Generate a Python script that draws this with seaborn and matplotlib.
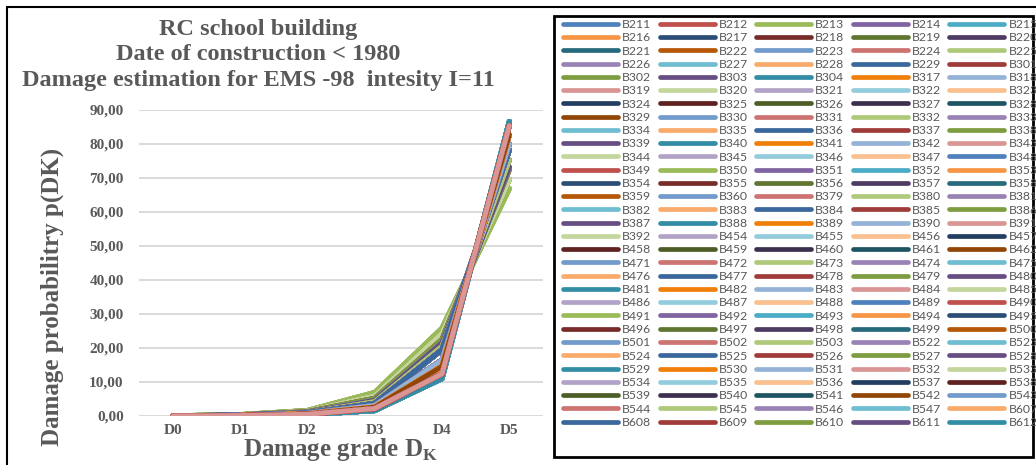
import matplotlib
matplotlib.use("Agg")
import matplotlib.pyplot as plt
from matplotlib.lines import Line2D
from matplotlib.patches import Rectangle
import pandas as pd
import seaborn as sns

# buildings, in legend order (row by row, 5 per row)
buildings = [
    "B211", "B212", "B213", "B214", "B215",
    "B216", "B217", "B218", "B219", "B220",
    "B221", "B222", "B223", "B224", "B225",
    "B226", "B227", "B228", "B229", "B301",
    "B302", "B303", "B304", "B317", "B318",
    "B319", "B320", "B321", "B322", "B323",
    "B324", "B325", "B326", "B327", "B328",
    "B329", "B330", "B331", "B332", "B333",
    "B334", "B335", "B336", "B337", "B338",
    "B339", "B340", "B341", "B342", "B343",
    "B344", "B345", "B346", "B347", "B348",
    "B349", "B350", "B351", "B352", "B353",
    "B354", "B355", "B356", "B357", "B358",
    "B359", "B360", "B379", "B380", "B381",
    "B382", "B383", "B384", "B385", "B386",
    "B387", "B388", "B389", "B390", "B391",
    "B392", "B454", "B455", "B456", "B457",
    "B458", "B459", "B460", "B461", "B462",
    "B471", "B472", "B473", "B474", "B475",
    "B476", "B477", "B478", "B479", "B480",
    "B481", "B482", "B483", "B484", "B485",
    "B486", "B487", "B488", "B489", "B490",
    "B491", "B492", "B493", "B494", "B495",
    "B496", "B497", "B498", "B499", "B500",
    "B501", "B502", "B503", "B522", "B523",
    "B524", "B525", "B526", "B527", "B528",
    "B529", "B530", "B531", "B532", "B533",
    "B534", "B535", "B536", "B537", "B538",
    "B539", "B540", "B541", "B542", "B543",
    "B544", "B545", "B546", "B547", "B607",
    "B608", "B609", "B610", "B611", "B612",
]

grades = ["D0", "D1", "D2", "D3", "D4", "D5"]

# damage probability curves (%), D0..D5
curve_0 = [0.05, 0.40, 1.60, 6.90, 25.8, 66.9]
curve_1 = [0.04, 0.35, 1.45, 5.90, 24.3, 69.6]
curve_2 = [0.03, 0.30, 1.25, 5.20, 22.5, 72.5]
curve_3 = [0.03, 0.28, 1.10, 4.60, 21.5, 73.2]
curve_4 = [0.03, 0.25, 1.00, 4.20, 20.5, 75.3]
curve_5 = [0.02, 0.22, 0.90, 3.70, 19.5, 78.3]
curve_6 = [0.02, 0.18, 0.75, 3.10, 16.5, 80.0]
curve_7 = [0.02, 0.15, 0.60, 2.60, 14.6, 82.7]
curve_8 = [0.01, 0.12, 0.50, 2.20, 12.4, 85.4]
curve_9 = [0.01, 0.10, 0.40, 1.60, 11.0, 86.6]
curves = [curve_0, curve_1, curve_2, curve_3, curve_4,
          curve_5, curve_6, curve_7, curve_8, curve_9]

# which curve each building follows (same layout as buildings)
building_curve = [
    5, 8, 0, 6, 9,
    7, 5, 8, 1, 5,
    9, 7, 6, 8, 2,
    6, 9, 7, 3, 8,
    0, 5, 9, 7, 6,
    8, 1, 6, 9, 7,
    5, 8, 4, 5, 9,
    7, 6, 8, 0, 6,
    9, 7, 5, 8, 1,
    5, 9, 7, 3, 8,
    2, 6, 9, 7, 6,
    8, 0, 5, 9, 7,
    5, 8, 4, 6, 9,
    7, 3, 8, 1, 5,
    9, 7, 6, 8, 0,
    6, 9, 7, 5, 8,
    2, 5, 9, 7, 6,
    8, 1, 6, 9, 7,
    5, 8, 0, 6, 9,
    7, 5, 8, 4, 5,
    9, 7, 6, 8, 1,
    6, 9, 7, 3, 8,
    0, 5, 9, 7, 5,
    8, 1, 6, 9, 7,
    6, 8, 1, 5, 9,
    7, 5, 8, 2, 6,
    9, 7, 6, 8, 1,
    5, 9, 7, 5, 2,
    4, 5, 9, 7, 5,
    4, 4, 5, 9, 2,
    5, 2, 2, 3, 9,
]

# Excel-like office palette, shades cycled the way the workbook does it
base = ["#4F81BD", "#C0504D", "#9BBB59", "#8064A2", "#4BACC6", "#F79646"]
dark1 = ["#2C4D75", "#772C2A", "#5F7530", "#4D3B62", "#276A7C", "#B65708"]
light1 = ["#729ACA", "#CD7371", "#AFC97A", "#9983B5", "#6FBDD1", "#F9AB6B"]
dark2 = ["#3A679C", "#9F3B38", "#7E9C40", "#664E82", "#328DA5", "#F07F09"]
light2 = ["#95B3D7", "#D99694", "#C3D69B", "#B3A2C7", "#93CDDD", "#FAC090"]
dark3 = ["#233E60", "#5F2220", "#4C5E26", "#3D2F4E", "#1F5563", "#924605"]
shade_cycle = [base, dark1, light1, dark2, light2, dark3, light1, dark2, light2]

colors = {b: shade_cycle[(i // 6) % 9][i % 6] for i, b in enumerate(buildings)}

rows = []
for b, c in zip(buildings, building_curve):
    for g, v in zip(grades, curves[c]):
        rows.append((b, g, v))
df = pd.DataFrame(rows, columns=["building", "grade", "p"])

# lower curves end up on top, like in the original
draw_rank = [0, 1, 2, 3, 4, 5, 6, 7, 9, 8]
draw_order = sorted(buildings, key=lambda b: draw_rank[building_curve[buildings.index(b)]])

sns.set_theme(style="white")
plt.rcParams["font.family"] = ["Liberation Serif", "DejaVu Serif"]
plt.rcParams["mathtext.fontset"] = "custom"
plt.rcParams["mathtext.rm"] = "Liberation Serif:bold"
plt.rcParams["mathtext.bf"] = "Liberation Serif:bold"

W, H = 1036, 465
grey = "#595959"
fig = plt.figure(figsize=(W / 100, H / 100), dpi=100)
ax = fig.add_axes([139 / W, 1 - 416 / H, (543 - 139) / W, (416 - 110) / H])

sns.lineplot(data=df, x="grade", y="p", hue="building", hue_order=draw_order,
             palette=colors, sort=False, legend=False, errorbar=None,
             linewidth=3.6, solid_capstyle="round", solid_joinstyle="round", ax=ax)

ax.set_xlim(-0.5, 5.5)
ax.set_ylim(0, 90)
yt = list(range(0, 100, 10))
ax.set_yticks(yt)
ax.set_yticklabels([f"{v:.2f}".replace(".", ",") for v in yt])
ax.set_xticks(range(len(grades)))
ax.set_xticklabels(grades)
ax.set_xlabel("")
ax.set_ylabel("")
ax.yaxis.grid(True, color="#D9D9D9", linewidth=1.4)
ax.xaxis.grid(False)
ax.set_axisbelow(True)
for s in ax.spines.values():
    s.set_visible(False)
ax.tick_params(axis="y", length=0, pad=11, labelsize=11, labelcolor=grey)
ax.tick_params(axis="x", length=0, pad=5.5, labelsize=11, labelcolor=grey)
for lab in ax.get_xticklabels() + ax.get_yticklabels():
    lab.set_fontweight("bold")

fig.text(258 / W, 1 - 55 / H,
         "RC school building\nDate of construction < 1980\nDamage estimation for EMS -98  intesity I=11",
         ha="center", va="center", fontsize=17.5, fontweight="bold", color=grey, linespacing=1.3)
fig.text(52 / W, 1 - 297 / H, "Damage probabilitry p(DK)", rotation=90,
         ha="center", va="center", fontsize=18, fontweight="bold", color=grey)
fig.text(340 / W, 1 - 456 / H, r"Damage grade D$_\mathrm{K}$",
         ha="center", va="baseline", fontsize=18, fontweight="bold", color=grey)

# outer chart frame (right/bottom edges are cropped in the original)
fig.add_artist(Line2D([7 / W, 7 / W], [0, 1 - 7 / H], color="black", lw=1.5, transform=fig.transFigure))
fig.add_artist(Line2D([7 / W, 1], [1 - 7 / H, 1 - 7 / H], color="black", lw=1.5, transform=fig.transFigure))

# legend box
fig.add_artist(Rectangle((554 / W, 1 - 456.7 / H), (1033 - 554) / W, (456.7 - 15.7) / H,
                         transform=fig.transFigure, fill=False, edgecolor="black", lw=2))

handles = [Line2D([], [], color=colors[b], lw=3.4, solid_capstyle="round") for b in buildings]
nrow = len(buildings) // 5
order = [r * 5 + c for c in range(5) for r in range(nrow)]
leg = fig.legend([handles[i] for i in order], [buildings[i] for i in order],
                 ncol=5, loc="upper left", bbox_to_anchor=(563 / W, 1 - 19 / H),
                 frameon=False, borderpad=0, borderaxespad=0,
                 handlelength=4.5, handletextpad=0.33, columnspacing=0.68,
                 labelspacing=0.185, prop={"family": "Lato", "size": 8.8}, labelcolor=grey)

fig.savefig("out.png", dpi=100)
